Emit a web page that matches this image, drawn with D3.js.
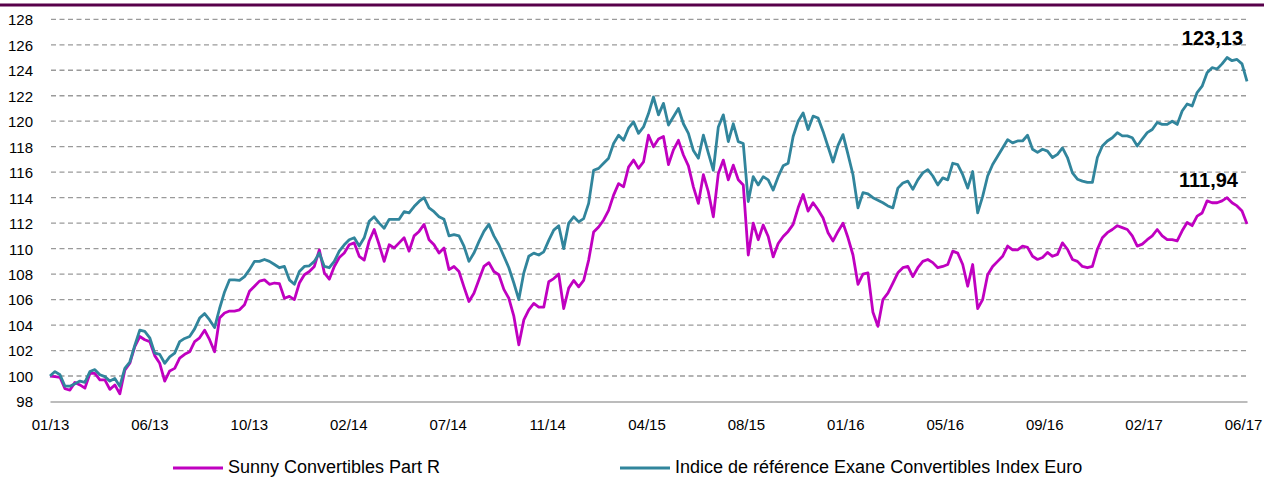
<!DOCTYPE html>
<html>
<head>
<meta charset="utf-8">
<script src="https://cdn.jsdelivr.net/npm/d3@7"></script>
<style>
  body { margin: 0; background: #fff; }
  svg { display: block; }
</style>
</head>
<body>
<svg id="chart" width="1264" height="477"></svg>
<script>
// Date labels shown along the horizontal axis (one every 20 observations)
const tickLabels = ["01/13","06/13","10/13","02/14","07/14","11/14","04/15","08/15","01/16","05/16","09/16","02/17","06/17"];
const tickStep = 20;

const seriesNames = ["Sunny Convertibles Part R", "Indice de référence Exane Convertibles Index Euro"];

// Sunny Convertibles Part R, base 100
const fundValues = [
  100.0,99.95,99.9,99.0,98.9,99.5,99.3,99.05,100.2,100.2,
  99.7,99.7,98.95,99.3,98.6,100.45,101.0,102.3,103.1,102.85,
  102.7,101.6,101.0,99.6,100.4,100.6,101.4,101.7,101.9,102.7,
  103.0,103.6,102.85,101.9,104.55,104.95,105.1,105.1,105.2,105.6,
  106.65,107.05,107.45,107.55,107.2,107.3,107.25,106.1,106.25,106.0,
  107.3,107.95,108.2,108.6,109.9,108.1,107.6,108.6,109.3,109.65,
  110.3,110.45,109.4,109.1,110.6,111.5,110.3,109.0,110.3,110.05,
  110.45,110.85,109.8,111.0,111.35,111.9,110.7,110.3,109.65,110.05,
  108.35,108.6,108.2,107.0,105.85,106.5,107.55,108.6,108.9,108.2,
  107.95,106.8,106.1,104.7,102.45,104.4,105.2,105.7,105.4,105.4,
  107.4,107.65,108.0,105.3,106.9,107.5,107.0,107.5,109.1,111.3,
  111.7,112.25,113.0,114.2,115.1,114.85,116.4,116.95,116.3,116.8,
  118.9,118.0,118.6,118.8,116.6,117.75,118.5,117.35,116.5,114.85,
  113.55,115.8,114.45,112.5,115.9,116.95,115.4,116.55,115.4,115.0,
  109.5,112.0,110.7,111.85,110.95,109.35,110.4,110.95,111.35,111.9,
  113.2,114.25,112.95,113.6,113.05,112.4,111.25,110.6,111.35,112.0,
  110.85,109.5,107.2,108.0,108.1,105.0,103.9,106.0,106.5,107.3,
  108.1,108.5,108.6,107.8,108.5,109.0,109.15,108.9,108.5,108.6,
  108.75,109.8,109.65,108.75,107.05,108.75,105.3,106.0,107.95,108.6,
  109.0,109.4,110.2,109.9,109.9,110.2,110.1,109.4,109.15,109.3,
  109.7,109.4,109.55,110.45,109.95,109.15,109.0,108.6,108.5,108.6,
  109.95,110.85,111.25,111.5,111.8,111.65,111.5,111.0,110.2,110.35,
  110.7,111.0,111.5,111.0,110.7,110.7,110.6,111.4,112.05,111.8,
  112.55,112.8,113.75,113.6,113.6,113.75,114.0,113.6,113.35,112.95,111.94
];

// Exane Convertibles Index Euro, base 100
const indexValues = [
  100.0,100.35,100.1,99.2,99.2,99.4,99.6,99.5,100.35,100.5,
  100.1,99.95,99.6,99.8,99.2,100.6,101.1,102.4,103.6,103.5,
  103.0,101.8,101.7,101.0,101.5,101.8,102.7,102.95,103.1,103.7,
  104.55,104.9,104.4,103.8,105.3,106.6,107.55,107.55,107.5,107.8,
  108.35,109.0,109.0,109.15,109.0,108.75,108.5,108.6,107.55,107.2,
  108.2,108.6,108.65,109.0,109.65,108.6,108.5,109.0,109.8,110.3,
  110.7,110.85,110.2,110.85,112.15,112.5,112.0,111.6,112.3,112.3,
  112.3,112.9,112.8,113.3,113.7,114.0,113.2,112.9,112.5,112.3,
  111.0,111.1,111.0,110.2,109.0,109.65,110.55,111.35,111.9,111.0,
  110.3,109.4,108.5,107.3,106.0,108.1,109.4,109.65,109.5,109.75,
  110.65,111.45,111.8,110.0,112.0,112.5,112.1,112.35,113.55,116.15,
  116.3,116.7,117.1,118.25,118.9,118.5,119.45,119.95,119.05,119.55,
  120.6,121.9,120.5,121.4,119.7,120.35,121.0,119.8,119.05,117.7,
  117.1,118.9,117.5,116.15,119.55,120.5,118.4,119.8,118.4,118.25,
  113.7,115.65,115.0,115.65,115.4,114.6,115.65,116.5,116.7,118.8,
  120.0,120.65,119.35,120.4,120.25,119.2,118.0,116.8,118.1,118.95,
  117.4,115.8,113.2,114.4,114.3,114.0,113.8,113.6,113.35,113.2,
  114.75,115.15,115.3,114.65,115.4,115.95,116.2,115.7,115.0,115.55,
  115.4,116.7,116.6,115.8,114.75,116.05,112.8,114.1,115.7,116.6,
  117.25,117.9,118.55,118.3,118.45,118.45,118.9,117.8,117.55,117.8,
  117.65,117.15,117.4,117.9,117.15,115.95,115.45,115.3,115.2,115.2,
  117.15,118.05,118.45,118.7,119.1,118.85,118.85,118.7,118.05,118.6,
  119.1,119.35,119.9,119.75,119.75,120.0,119.75,120.8,121.35,121.2,
  122.25,122.75,123.8,124.2,124.1,124.5,125.0,124.75,124.85,124.5,123.13
];

const yTicks = d3.range(98, 129, 2);

const FONT = "'Liberation Sans', Arial, sans-serif";
const fundColor = "#c000c0";
const indexColor = "#31859c";

const svg = d3.select("#chart");

// Dark band across the top of the panel
svg.append("rect")
  .attr("x", 0).attr("y", 3.5)
  .attr("width", 1264).attr("height", 3)
  .attr("fill", "#58004a");

const x = d3.scaleLinear().domain([0, fundValues.length - 1]).range([50, 1247]);
const y = d3.scaleLinear().domain([98, 128]).range([401.5, 19.3]);

// Horizontal dashed grid
svg.append("g")
  .selectAll("line")
  .data(yTicks.filter(v => v > 98))
  .join("line")
  .attr("x1", 51).attr("x2", 1246)
  .attr("y1", d => y(d)).attr("y2", d => y(d))
  .attr("stroke", "#9a9a9a")
  .attr("stroke-width", 1.3)
  .attr("stroke-dasharray", "5,3.5");

// Y axis labels
const yAxis = d3.axisLeft(y).tickValues(yTicks).tickSize(0).tickPadding(0).tickFormat(d3.format("d"));
const gy = svg.append("g").attr("transform", "translate(33,0)").call(yAxis);
gy.select(".domain").remove();
gy.selectAll("text")
  .attr("x", 0)
  .attr("dy", "0.36em")
  .style("font-family", FONT)
  .style("font-size", "15px")
  .attr("fill", "#000");

// X axis
const xAxis = d3.axisBottom(x)
  .tickValues(d3.range(0, fundValues.length, tickStep))
  .tickSize(0)
  .tickFormat((d, i) => tickLabels[i]);
const gx = svg.append("g").attr("transform", `translate(0,${y(98)})`).call(xAxis);
gx.select(".domain").attr("stroke", "#a6a6a6").attr("stroke-width", 1.6);
gx.selectAll("text")
  .attr("y", 28).attr("dy", 0)
  .attr("dx", (d, i) => -i * 0.33)
  .style("font-family", FONT)
  .style("font-size", "15px")
  .attr("fill", "#000");

// Series lines
const line = d3.line().x((d, i) => x(i)).y(d => y(d));

svg.append("path")
  .datum(fundValues)
  .attr("fill", "none")
  .attr("stroke", fundColor)
  .attr("stroke-width", 2.8)
  .attr("stroke-linejoin", "round")
  .attr("d", line);

svg.append("path")
  .datum(indexValues)
  .attr("fill", "none")
  .attr("stroke", indexColor)
  .attr("stroke-width", 2.8)
  .attr("stroke-linejoin", "round")
  .attr("d", line);

// Last-value labels
const fmt = v => v.toFixed(2).replace(".", ",");
const lastI = fundValues.length - 1;
svg.append("text")
  .attr("x", x(lastI) - 4)
  .attr("y", y(indexValues[lastI]) - 36)
  .attr("text-anchor", "end")
  .style("font-family", FONT)
  .style("font-size", "20px")
  .style("font-weight", "bold")
  .attr("fill", "#000")
  .text(fmt(indexValues[lastI]));
svg.append("text")
  .attr("x", x(lastI) - 9)
  .attr("y", y(fundValues[lastI]) - 37)
  .attr("text-anchor", "end")
  .style("font-family", FONT)
  .style("font-size", "20px")
  .style("font-weight", "bold")
  .attr("fill", "#000")
  .text(fmt(fundValues[lastI]));

// Legend
const legend = [
  { name: seriesNames[0], color: fundColor, x: 173 },
  { name: seriesNames[1], color: indexColor, x: 620 }
];
const lg = svg.append("g").selectAll("g").data(legend).join("g")
  .attr("transform", d => `translate(${d.x},468)`);
lg.append("line")
  .attr("x1", 0).attr("x2", 50)
  .attr("stroke", d => d.color)
  .attr("stroke-width", 3);
lg.append("text")
  .attr("x", 55).attr("y", 5)
  .style("font-family", FONT)
  .style("font-size", "18px")
  .attr("fill", "#000")
  .text(d => d.name);
</script>
</body>
</html>
